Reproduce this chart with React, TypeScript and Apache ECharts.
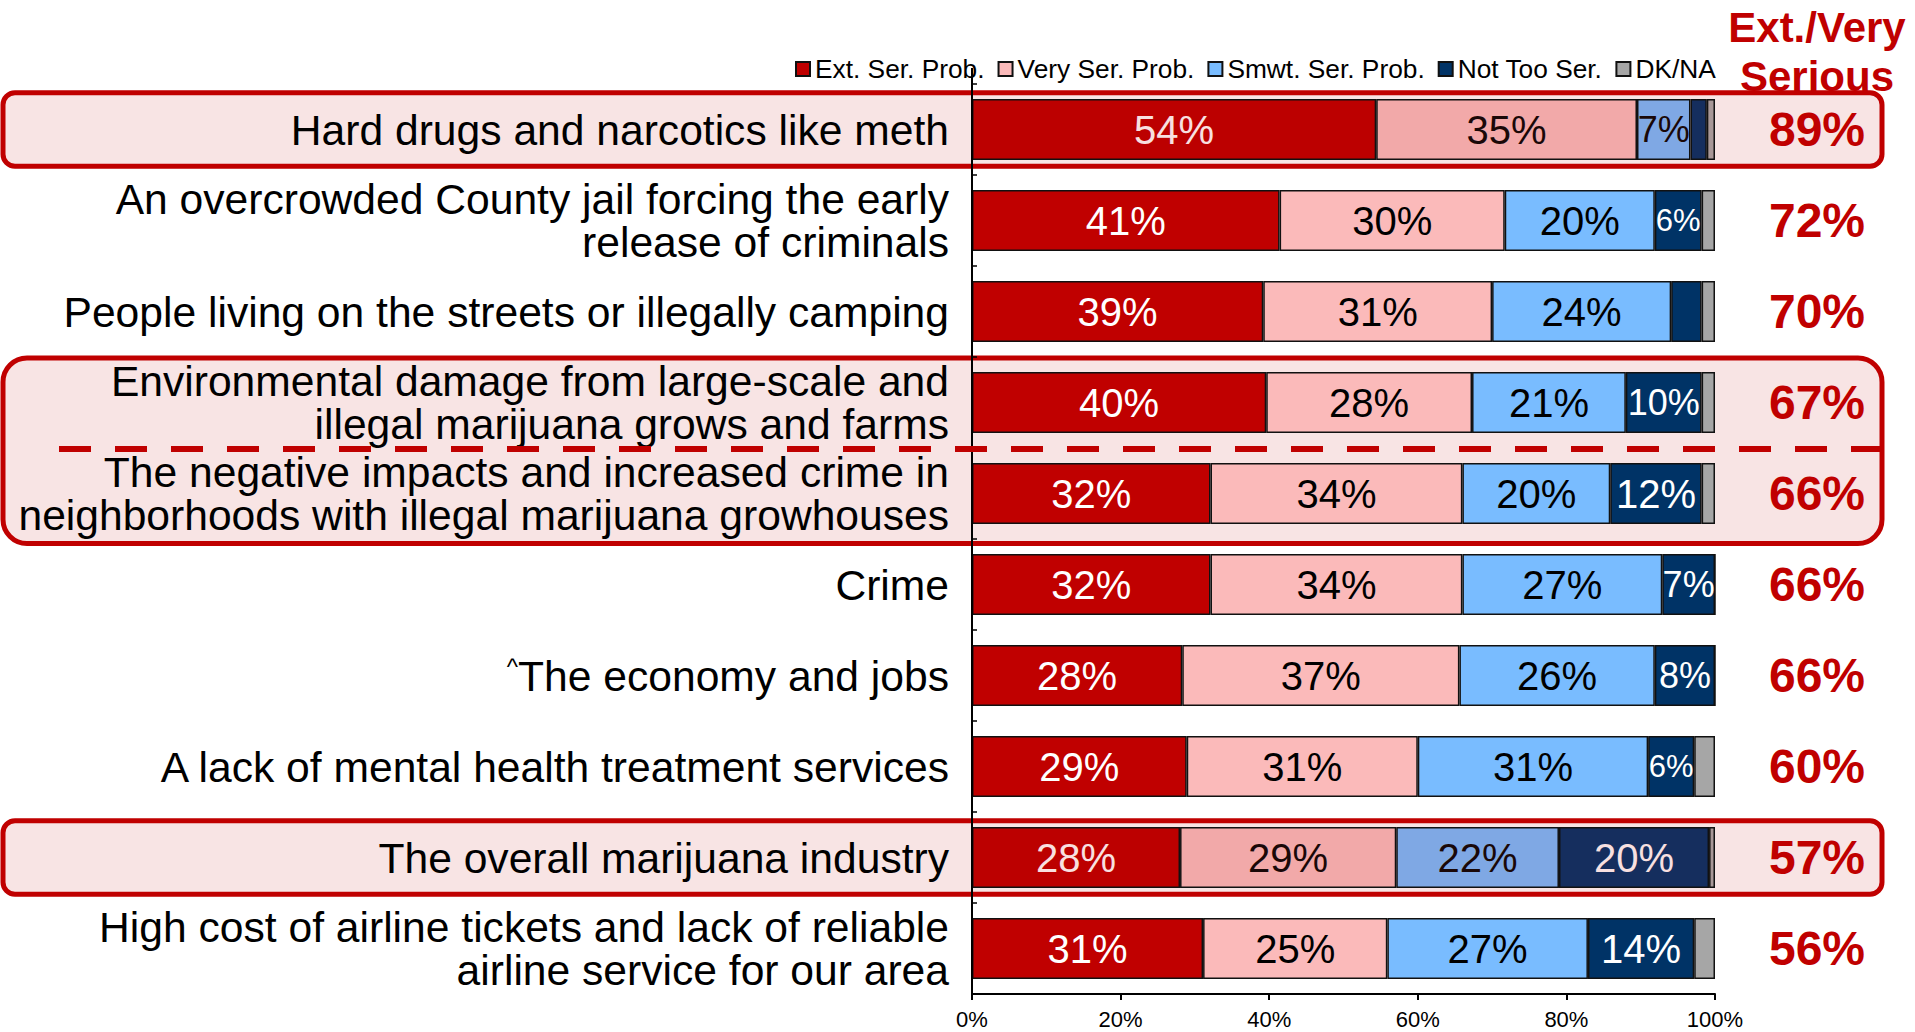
import React, { useEffect, useRef } from "react";
import * as echarts from "echarts";

const FONT = "'Liberation Sans', Arial, Helvetica, sans-serif";

const categories = [
  "Hard drugs and narcotics like meth",
  "An overcrowded County jail forcing the early\nrelease of criminals",
  "People living on the streets or illegally camping",
  "Environmental damage from large-scale and\nillegal marijuana grows and farms",
  "The negative impacts and increased crime in\nneighborhoods with illegal marijuana growhouses",
  "Crime",
  "^The economy and jobs",
  "A lack of mental health treatment services",
  "The overall marijuana industry",
  "High cost of airline tickets and lack of reliable\nairline service for our area",
];

const seriesNames = ["Ext. Ser. Prob.", "Very Ser. Prob.", "Smwt. Ser. Prob.", "Not Too Ser.", "DK/NA"];

const extSer = [54.4, 41.4, 39.2, 39.6, 32.1, 32.1, 28.3, 28.9, 28.0, 31.1];
const verySer = [35.1, 30.3, 30.8, 27.7, 33.9, 33.9, 37.3, 31.1, 29.1, 24.8];
const smwtSer = [7.2, 20.2, 24.1, 20.7, 19.9, 26.9, 26.3, 31.0, 21.9, 27.0];
const notTooSer = [2.2, 6.3, 4.1, 10.2, 12.3, 7.1, 8.1, 6.2, 20.2, 14.3];
const dkNa = [1.1, 1.8, 1.8, 1.8, 1.8, 0, 0, 2.8, 0.8, 2.8];

const extVeryTotals = [89, 72, 70, 67, 66, 66, 66, 60, 57, 56];

const xTicks = [0, 20, 40, 60, 80, 100];

// rows with an overlay highlight box, and the boxed pair split by a dashed line
const overlayRows = [0, 8];
const boxedPair = [3, 4];

const baseColors = ["#C00000", "#FBBABA", "#79BCFF", "#003366", "#A6A6A6"];
const tintColors = ["#BC0000", "#F2A9A9", "#7FA8E4", "#152E5E", "#A89898"];
const labelColors = ["#FFFFFF", "#000000", "#000000", "#FFFFFF", "#000000"];
const tintLabelColors = ["#F8E0E0", "#1A0808", "#1A0808", "#F8E0E0", "#1A0808"];

const allValues = [extSer, verySer, smwtSer, notTooSer, dkNa];

function buildSeries() {
  return allValues.map((vals, si) => ({
    name: seriesNames[si],
    type: "bar",
    stack: "total",
    barWidth: "67%",
    z: 3,
    itemStyle: { color: baseColors[si], borderColor: "#111", borderWidth: 1.5 },
    label: {
      show: true,
      position: "inside",
      fontFamily: FONT,
      formatter: (p: any) => Math.round(p.value) + "%",
    },
    data: vals.map((v, i) => {
      const hl = overlayRows.includes(i);
      return {
        value: v,
        itemStyle: hl ? { color: tintColors[si] } : undefined,
        label: {
          show: si < 4 && v >= 5,
          color: hl ? tintLabelColors[si] : labelColors[si],
          fontSize: v < 7 ? 31 : v < 11 ? 36 : 40,
        },
      };
    }),
  }));
}

export default function App() {
  const ref = useRef<HTMLDivElement>(null);
  useEffect(() => {
    const chart = echarts.init(ref.current!, undefined, { renderer: "svg" });
    const option: any = {
      animation: false,
      backgroundColor: "#ffffff",
      textStyle: { fontFamily: FONT },
      legend: {
        left: 795,
        top: 56,
        padding: 0,
        itemGap: 13,
        itemWidth: 14,
        itemHeight: 14,
        icon: "rect",
        data: seriesNames,
        textStyle: { fontSize: 26.3, color: "#000", fontFamily: FONT },
      },
      grid: { left: 972, right: 200, top: 84, bottom: 38 },
      xAxis: {
        type: "value",
        min: xTicks[0],
        max: xTicks[xTicks.length - 1],
        interval: xTicks[1] - xTicks[0],
        z: 5,
        axisLine: { show: true, lineStyle: { color: "#000", width: 2 } },
        axisTick: { show: true, length: 6, lineStyle: { color: "#000", width: 2 } },
        splitLine: { show: false },
        axisLabel: { formatter: "{value}%", fontSize: 22, color: "#000", margin: 14, fontFamily: FONT },
      },
      yAxis: [
        {
          type: "category",
          data: categories,
          inverse: true,
          z: 5,
          axisLine: { show: true, lineStyle: { color: "#000", width: 2 } },
          axisTick: { show: true, inside: true, length: 5, lineStyle: { color: "#000", width: 1.5 } },
          axisLabel: {
            interval: 0,
            fontSize: 42.6,
            lineHeight: 43,
            color: "#000",
            margin: 23,
            fontFamily: FONT,
            formatter: (v: string) => (v.startsWith("^") ? "{sup|^}" + v.slice(1) : v),
            rich: {
              sup: { fontSize: 24, verticalAlign: "top", color: "#000", fontFamily: FONT, lineHeight: 43 },
            },
          },
        },
        {
          type: "category",
          data: extVeryTotals.map((t) => t + "%"),
          inverse: true,
          position: "right",
          z: 5,
          axisLine: { show: false },
          axisTick: { show: false },
          axisLabel: {
            interval: 0,
            fontSize: 48,
            fontWeight: "bold",
            color: "#C00000",
            align: "center",
            margin: 102,
            fontFamily: FONT,
          },
        },
      ],
      series: buildSeries(),
    };
    chart.setOption(option);

    const cy = categories.map((_, i) => chart.convertToPixel({ yAxisIndex: 0 }, i) as number);
    const band = cy[1] - cy[0];
    const x0 = chart.convertToPixel({ xAxisIndex: 0 }, 0) as number;
    const boxLeft = 3;
    const boxRight = 1882;
    const graphics: any[] = [
      {
        type: "text",
        z: 0,
        x: 1817,
        y: 3,
        style: {
          text: "Ext./Very\nSerious",
          fill: "#C00000",
          font: "bold 42px " + FONT,
          textAlign: "center",
          textVerticalAlign: "top",
          lineHeight: 49,
        },
      },
      {
        type: "line",
        z: 6,
        shape: { x1: x0, y1: cy[0] - band / 2 - 16, x2: x0, y2: cy[0] - band / 2 },
        style: { stroke: "#000", lineWidth: 2 },
      },
    ];
    overlayRows.forEach((r) => {
      graphics.push({
        type: "rect",
        z: 1,
        shape: { x: boxLeft, y: cy[r] - band * 0.405, width: boxRight - boxLeft, height: band * 0.81, r: 12 },
        style: { fill: "#F8E4E4", stroke: "#C00000", lineWidth: 5 },
      });
    });
    const top = cy[boxedPair[0]] - band * 0.49;
    const bottom = cy[boxedPair[1]] + band * 0.55;
    graphics.push({
      type: "rect",
      z: 1,
      shape: { x: boxLeft, y: top, width: boxRight - boxLeft, height: bottom - top, r: 24 },
      style: { fill: "#F8E4E4", stroke: "#C00000", lineWidth: 5 },
    });
    const midY = (cy[boxedPair[0]] + cy[boxedPair[1]]) / 2 + 1;
    graphics.push({
      type: "line",
      z: 100,
      shape: { x1: 59, y1: midY, x2: boxRight, y2: midY },
      style: { stroke: "#C00000", lineWidth: 6, lineDash: [32, 24] },
    });
    chart.setOption({ graphic: graphics });

    return () => chart.dispose();
  }, []);
  return (
    <div
      ref={ref}
      style={{ position: "fixed", left: 0, top: 0, width: 1915, height: 1032, background: "#fff" }}
    />
  );
}
